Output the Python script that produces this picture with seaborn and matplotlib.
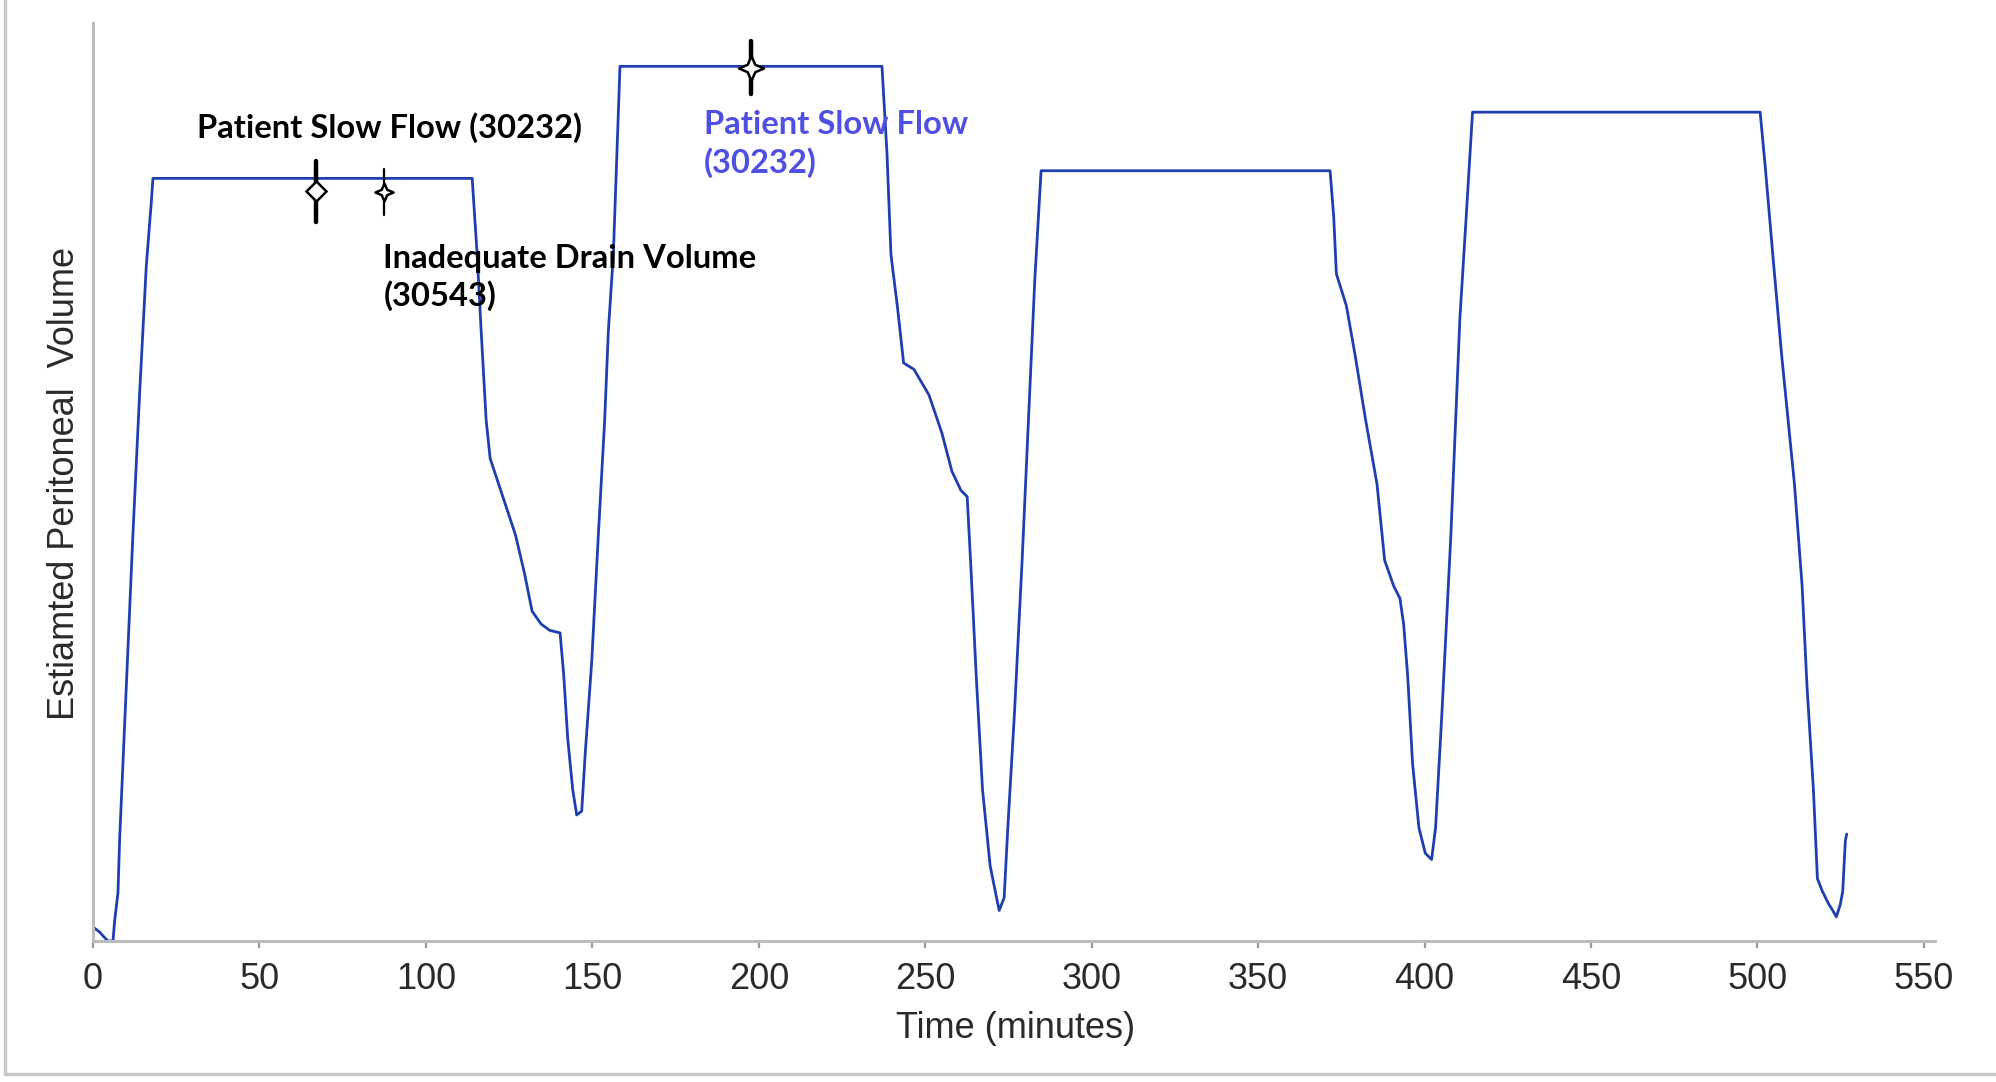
import seaborn as sns
import pandas as pd
import numpy as np
import matplotlib.pyplot as plt
from matplotlib.lines import Line2D

# time in minutes, volume in arbitrary units (no y scale on the original)
time_min = [0.0, 1.0, 2.0, 3.0, 4.5, 6.0, 6.5, 7.5, 8.0, 10.0, 12.0, 14.0, 16.0, 17.5, 18.0,
            113.9, 115.4, 116.6, 118.1, 119.3, 123.1, 126.9, 129.6, 131.9, 134.6, 137.2, 140.3,
            141.4, 142.6, 144.1, 145.3, 146.8, 147.9, 149.8, 151.8, 153.7, 154.8, 156.3, 158.3,
            237.0, 238.5, 239.7, 241.6, 243.5, 246.6, 251.1, 255.0, 258.0, 260.7, 262.6,
            263.8, 265.3, 267.2, 269.5, 272.2, 273.7, 274.8, 276.8, 279.1, 281.0, 282.9, 284.8,
            371.6, 372.7, 373.5, 376.5, 379.2, 382.3, 385.7, 388.0, 390.7, 392.6, 393.7, 394.9,
            396.4, 398.3, 400.2, 402.1, 403.3, 405.2, 407.9, 410.6, 412.5, 414.4,
            500.8, 502.3, 504.6, 507.3, 511.1, 513.4, 514.9, 516.8, 518.0, 519.5, 521.4, 522.6,
            523.7, 524.9, 525.6, 526.4, 526.8]
volume = [11, 9, 7, 4, 0, 0, 16, 38, 80, 200, 320, 430, 530, 580, 599,
          599, 539, 479, 409, 379, 349, 319, 289, 259, 249, 244, 242,
          209, 159, 119, 99, 102, 149, 219, 319, 409, 479, 539, 687,
          687, 619, 539, 499, 454, 449, 429, 399, 369, 354, 349,
          289, 209, 119, 59, 24, 34, 89, 179, 299, 409, 519, 605,
          605, 569, 524, 499, 459, 409, 359, 299, 279, 269, 249, 209,
          139, 89, 69, 64, 89, 179, 319, 489, 569, 651,
          651, 609, 539, 459, 359, 279, 199, 119, 49, 39, 29, 24,
          19, 29, 39, 79, 84]

# alarm events on the trace
event_times = [66.9, 87.5, 197.6]
event_vols = [589, 588, 686]
event_labels = ['Patient Slow Flow (30232)', 'Inadequate Drain Volume\n(30543)', 'Patient Slow Flow\n(30232)']
label_pos = [(31.3, 639), (87.2, 521), (183.5, 626)]
label_colors = ['black', 'black', '#4f4fe3']

df = pd.DataFrame({'Time': time_min, 'Volume': volume})

sns.set_style('white')
plt.rcParams['font.family'] = ['Liberation Sans', 'DejaVu Sans']

fig = plt.figure(figsize=(9.98, 5.41), dpi=200)
ax = fig.add_axes([0.0466, 0.1303, 0.9228, 0.8484])

sns.lineplot(data=df, x='Time', y='Volume', ax=ax, color='#1f3fb0', linewidth=1.0,
             sort=False, estimator=None)

# 4-point star marker
star = [(0, 1), (0.3, 0.3), (1, 0), (0.3, -0.3), (0, -1), (-0.3, -0.3), (-1, 0), (-0.3, 0.3), (0, 1)]

bars = [(24, 1.6), (18, 0.8), (21, 1.6)]
shapes = ['D', star, star]
sizes = [5, 6.5, 9]
for t, v, (h, lw), mk, ms in zip(event_times, event_vols, bars, shapes, sizes):
    ax.plot([t, t], [v - h, v + h], color='black', linewidth=lw, zorder=4)
    ax.plot([t], [v], marker=mk, markersize=ms, markerfacecolor='white',
            markeredgecolor='black', markeredgewidth=0.9, zorder=5, linestyle='none')

for lab, (x, y), c in zip(event_labels, label_pos, label_colors):
    ax.text(x, y, lab, color=c, fontsize=11.8, fontweight='bold', family=['Lato', 'DejaVu Sans'],
            ha='left', va='center', linespacing=1.3)

ax.set_xlim(0, 553.3)
ax.set_ylim(0, 721)
ax.set_xticks(np.arange(0, 551, 50))
ax.set_yticks([])
for s in ['top', 'right']:
    ax.spines[s].set_visible(False)
for s in ['left', 'bottom']:
    ax.spines[s].set_color('#bcbcbc')
    ax.spines[s].set_linewidth(1.1)
ax.tick_params(axis='x', direction='out', length=2.5, width=0.8, color='#9a9a9a',
               labelsize=13, labelcolor='#2a2a2a', pad=5, bottom=True)

ax.set_xlabel('Time (minutes)', fontsize=13, color='#2a2a2a')
ax.set_ylabel('Estiamted Peritoneal  Volume', fontsize=13, color='#2a2a2a')
ax.xaxis.set_label_coords(0.501, -0.095)
ax.xaxis.label.set_va('center')
ax.yaxis.set_label_coords(-0.0157, 0.498)
ax.yaxis.label.set_va('center')

# outer frame (left and bottom edges)
fig.add_artist(Line2D([0.0025, 0.0025], [0.0074, 1.0], color='#c8c8c8', linewidth=1.2))
fig.add_artist(Line2D([0.0025, 1.0], [0.0074, 0.0074], color='#c8c8c8', linewidth=1.2))

plt.savefig('out.png', dpi=200)
